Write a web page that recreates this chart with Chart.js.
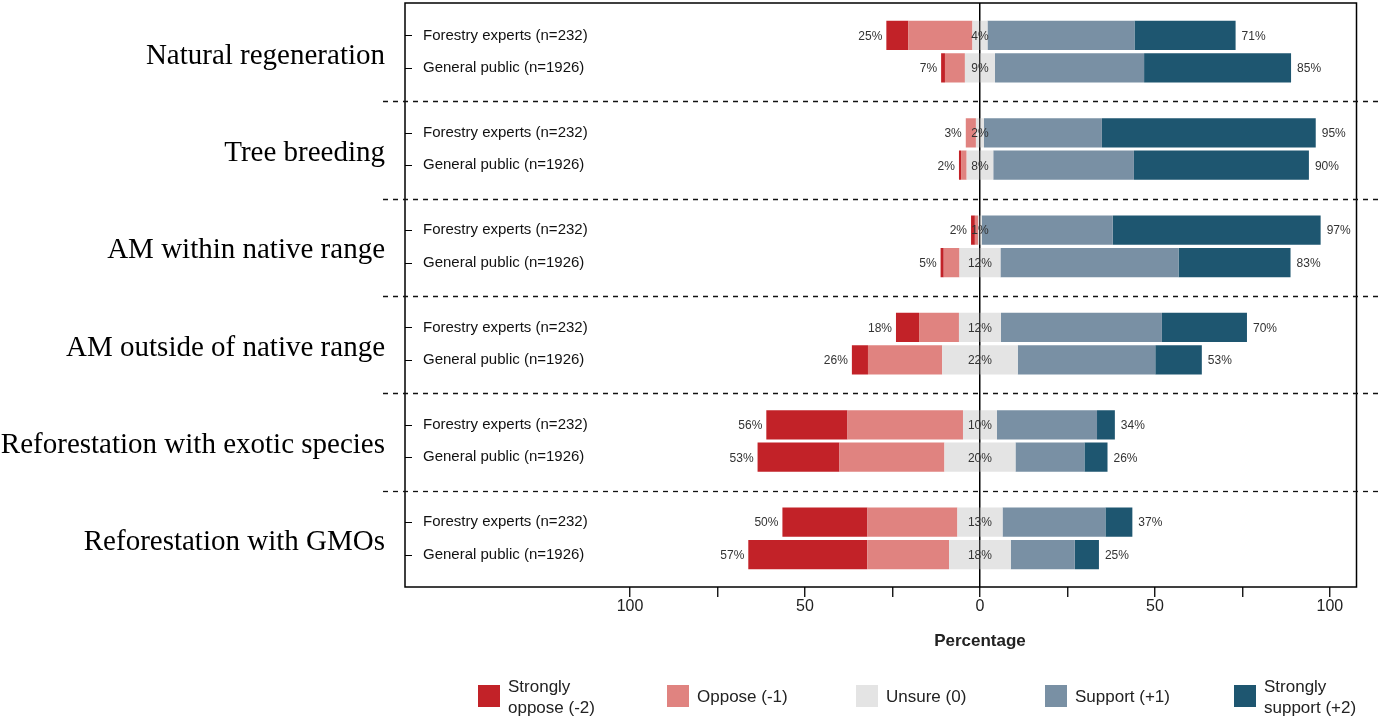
<!DOCTYPE html>
<html>
<head>
<meta charset="utf-8">
<title>Attitudes towards forest management practices</title>
<script src="https://cdn.jsdelivr.net/npm/chart.js@4.4.1/dist/chart.umd.min.js"></script>
<style>
  body { margin: 0; background: #fff; }
  #wrap { width: 1381px; height: 718px; }
</style>
</head>
<body>
<div id="wrap"><canvas id="likert" width="1381" height="718"></canvas></div>
<script>
// practices (panels) and respondent groups (rows inside each panel)
const practices = [
    'Natural regeneration',
    'Tree breeding',
    'AM within native range',
    'AM outside of native range',
    'Reforestation with exotic species',
    'Reforestation with GMOs'
];
const respondents = ['Forestry experts (n=232)', 'General public (n=1926)'];

// shares in %, one value per row: experts, public, experts, public, ...
const stronglyOppose  = [6.3, 1.1, 0.0, 0.6, 1.1, 0.9, 6.6, 4.6, 23.2, 23.4, 24.3, 34.0];
const oppose          = [18.3, 5.7, 2.9, 1.6, 0.9, 4.5, 11.4, 21.2, 33.0, 30.0, 25.7, 23.4];
const unsure          = [4.3, 8.6, 2.3, 7.6, 1.1, 11.7, 12.0, 21.6, 9.7, 20.3, 12.9, 17.6];
const support         = [42.0, 42.6, 33.7, 40.2, 37.4, 50.9, 46.0, 39.3, 28.6, 19.7, 29.4, 18.3];
const stronglySupport = [28.9, 42.0, 61.1, 50.0, 59.4, 32.0, 24.3, 13.3, 5.1, 6.6, 7.7, 6.9];

const responseLabels = [['Strongly', 'oppose (-2)'], ['Oppose (-1)'], ['Unsure (0)'], ['Support (+1)'], ['Strongly', 'support (+2)']];
const axisTicks = [-100, -75, -50, -25, 0, 25, 50, 75, 100];

const colors = ['#c22228', '#e08380', '#e4e4e4', '#7990a4', '#1e5670'];
const SANS = "'Liberation Sans', Arial, sans-serif";
const SERIF = "'Liberation Serif', 'Times New Roman', serif";

// one empty slot before every panel and one at the end keeps the panels apart
const yLabels = [];
practices.forEach(function(){
    yLabels.push('', respondents[0], respondents[1]);
});
yLabels.push('');

function rowSlot(r) {
    return 3 * Math.floor(r / 2) + 1 + (r % 2);
}
function spread(values, sign) {
    const out = new Array(yLabels.length).fill(null);
    values.forEach(function(v, r){ out[rowSlot(r)] = sign * v; });
    return out;
}

// negatives stack leftwards from 0, positives rightwards; unsure is split across 0
const datasets = [
    { label: 'Unsure (0)', data: spread(unsure.map(v => v / 2), -1), backgroundColor: colors[2] },
    { label: 'Unsure (0)', data: spread(unsure.map(v => v / 2), 1), backgroundColor: colors[2] },
    { label: 'Oppose (-1)', data: spread(oppose, -1), backgroundColor: colors[1] },
    { label: 'Support (+1)', data: spread(support, 1), backgroundColor: colors[3] },
    { label: 'Strongly oppose (-2)', data: spread(stronglyOppose, -1), backgroundColor: colors[0] },
    { label: 'Strongly support (+2)', data: spread(stronglySupport, 1), backgroundColor: colors[4] }
];

const likertDecor = {
    id: 'likertDecor',
    afterDatasetsDraw(chart) {
        const ctx = chart.ctx;
        const x = chart.scales.x, y = chart.scales.y;
        ctx.save();
        ctx.font = '12px ' + SANS;
        ctx.fillStyle = '#333';
        ctx.textBaseline = 'middle';
        for (let r = 0; r < unsure.length; r++) {
            const py = y.getPixelForValue(rowSlot(r)) + 1;
            const neg = stronglyOppose[r] + oppose[r];
            const pos = support[r] + stronglySupport[r];
            const half = unsure[r] / 2;
            ctx.textAlign = 'right';
            ctx.fillText(Math.round(neg) + '%', x.getPixelForValue(-(neg + half)) - 4, py);
            ctx.textAlign = 'left';
            ctx.fillText(Math.round(pos) + '%', x.getPixelForValue(pos + half) + 6, py);
            ctx.textAlign = 'center';
            ctx.fillText(Math.round(unsure[r]) + '%', x.getPixelForValue(0), py);
        }
        ctx.restore();
    },
    afterDraw(chart) {
        const ctx = chart.ctx;
        const area = chart.chartArea;
        const x = chart.scales.x, y = chart.scales.y;
        ctx.save();

        // frame
        ctx.strokeStyle = '#000';
        ctx.lineWidth = 1.5;
        ctx.strokeRect(area.left, area.top, area.right - area.left, area.bottom - area.top);

        // small inward ticks for each row
        ctx.lineWidth = 1.2;
        ctx.beginPath();
        for (let r = 0; r < unsure.length; r++) {
            const py = Math.round(y.getPixelForValue(rowSlot(r))) + 0.5;
            ctx.moveTo(area.left, py);
            ctx.lineTo(area.left + 7, py);
        }
        ctx.stroke();

        // dashed separators between panels
        ctx.setLineDash([5, 5]);
        ctx.lineWidth = 1.3;
        ctx.strokeStyle = '#111';
        for (let g = 1; g < practices.length; g++) {
            const py = Math.round(y.getPixelForValue(3 * g)) + 1.5;
            ctx.beginPath();
            ctx.moveTo(area.left - 22, py);
            ctx.lineTo(chart.width, py);
            ctx.stroke();
        }
        ctx.setLineDash([]);

        // panel names
        ctx.fillStyle = '#000';
        ctx.font = '29px ' + SERIF;
        ctx.textAlign = 'right';
        ctx.textBaseline = 'alphabetic';
        practices.forEach(function(name, g){
            const mid = (y.getPixelForValue(3 * g + 1) + y.getPixelForValue(3 * g + 2)) / 2;
            ctx.fillText(name, area.left - 20, mid + 12);
        });

        // axis title, centred on 0
        ctx.font = 'bold 17px ' + SANS;
        ctx.fillStyle = '#222';
        ctx.textAlign = 'center';
        ctx.textBaseline = 'middle';
        ctx.fillText('Percentage', x.getPixelForValue(0), 641);

        // legend
        const order = [4, 2, 0, 3, 5];
        ctx.font = '17px ' + SANS;
        ctx.textAlign = 'left';
        order.forEach(function(di, i){
            const bx = 478 + i * 189;
            ctx.fillStyle = chart.data.datasets[di].backgroundColor;
            ctx.fillRect(bx, 685, 22, 22);
            ctx.fillStyle = '#222';
            const lines = responseLabels[i];
            if (lines.length === 1) {
                ctx.fillText(lines[0], bx + 30, 697);
            } else {
                ctx.fillText(lines[0], bx + 30, 687);
                ctx.fillText(lines[1], bx + 30, 708);
            }
        });
        ctx.restore();
    }
};

const chart = new Chart(document.getElementById('likert'), {
    type: 'bar',
    data: {
        labels: yLabels,
        datasets: datasets
    },
    options: {
        indexAxis: 'y',
        responsive: false,
        animation: false,
        events: [],
        layout: {
            autoPadding: false,
            padding: { top: 3, right: 24.5, left: 0, bottom: 0 }
        },
        datasets: {
            bar: {
                barPercentage: 1,
                categoryPercentage: 0.9,
                borderWidth: 0
            }
        },
        plugins: {
            legend: { display: false },
            tooltip: { enabled: false }
        },
        scales: {
            x: {
                type: 'linear',
                stacked: true,
                min: -164.3,
                max: 107.6,
                afterBuildTicks: function(axis){
                    axis.ticks = axisTicks.map(v => ({ value: v }));
                },
                afterFit: function(axis){
                    axis.height = 131;
                },
                border: { display: false },
                grid: {
                    color: (c) => (c.tick && c.tick.value === 0 ? '#000' : 'rgba(0,0,0,0)'),
                    lineWidth: 1.5,
                    tickColor: '#000',
                    tickWidth: 1.3,
                    tickLength: 10
                },
                ticks: {
                    color: '#222',
                    padding: 0,
                    font: { family: SANS, size: 16 },
                    callback: (v) => (v % 50 === 0 ? String(Math.abs(v)) : '')
                }
            },
            y: {
                type: 'category',
                stacked: true,
                offset: false,
                afterFit: function(axis){
                    axis.width = 405;
                    axis.paddingTop = 0;
                    axis.paddingBottom = 0;
                },
                border: { display: false },
                grid: { display: false },
                ticks: {
                    mirror: true,
                    padding: 18,
                    color: '#111',
                    autoSkip: false,
                    font: { family: SANS, size: 15 }
                }
            }
        }
    },
    plugins: [likertDecor]
});
</script>
</body>
</html>
